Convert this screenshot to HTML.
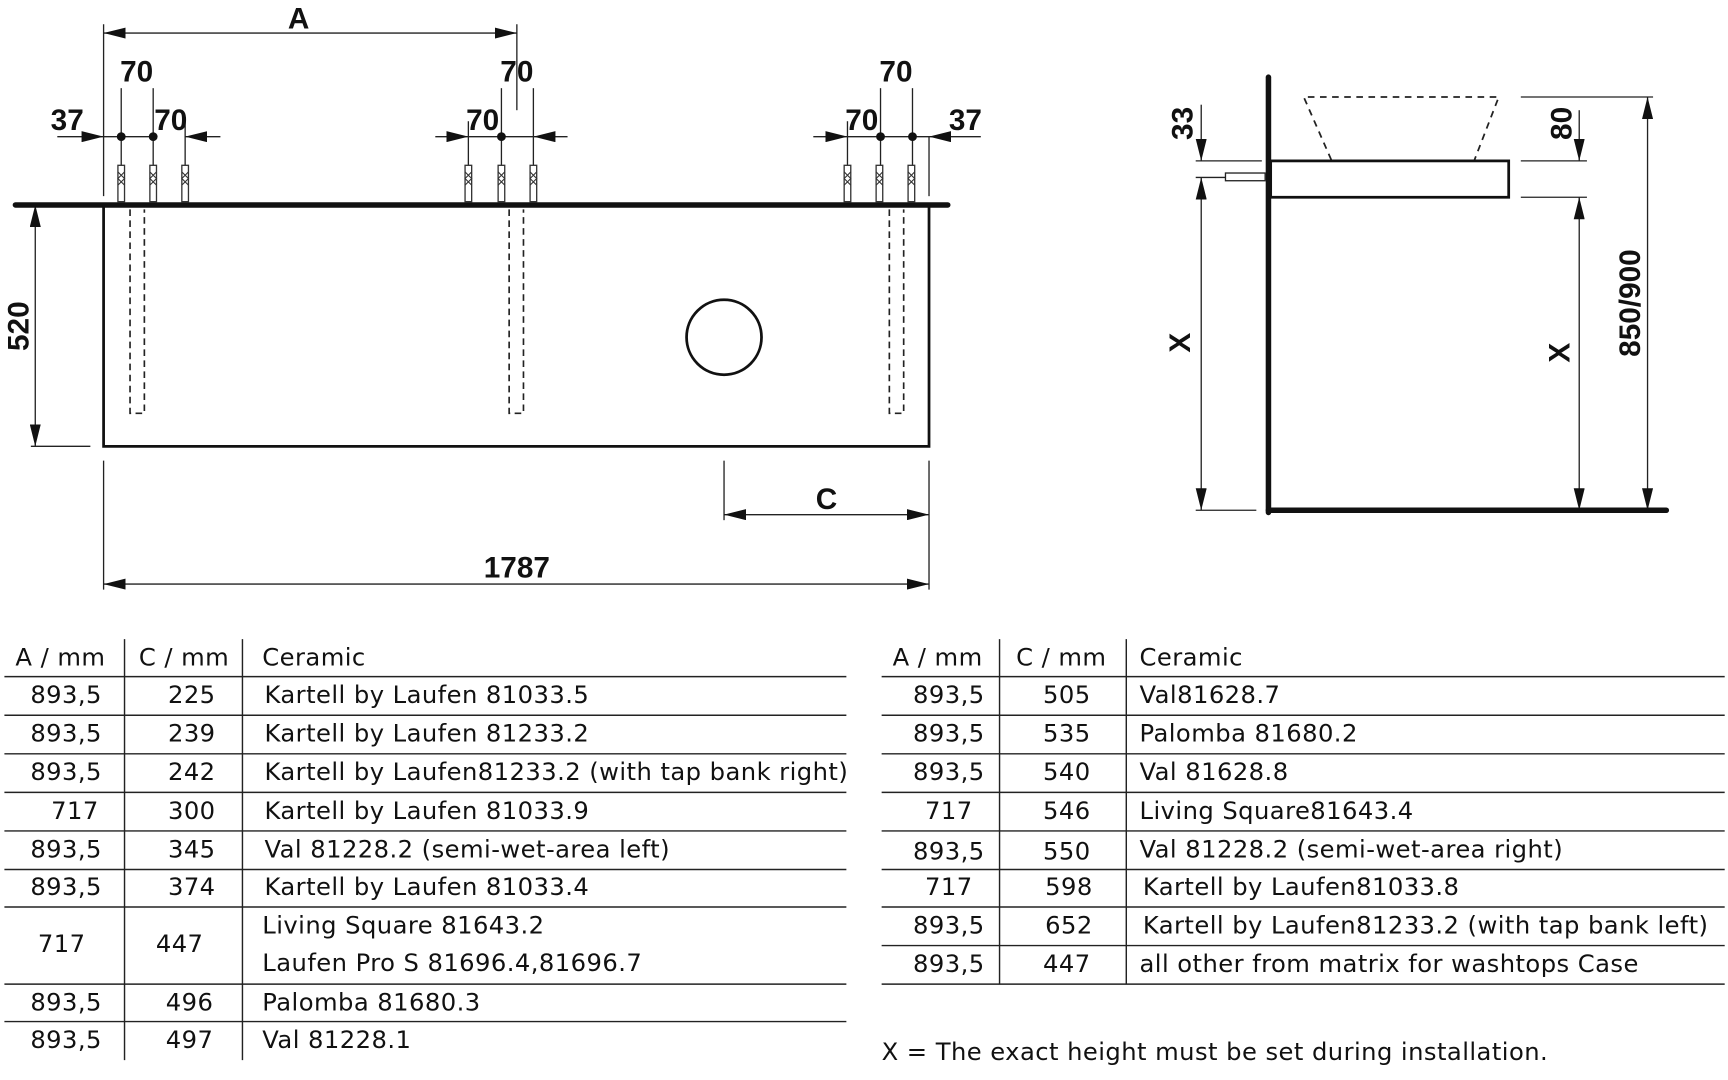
<!DOCTYPE html>
<html><head><meta charset="utf-8"><style>
html,body{margin:0;padding:0;background:#fff;}
svg{display:block;}
.d{font-family:"Liberation Sans",sans-serif;font-weight:bold;font-size:27px;fill:#111;}
.t{font-family:"DejaVu Sans","Liberation Sans",sans-serif;font-size:22px;fill:#111;letter-spacing:0.4px;}
</style></head><body>
<svg width="1728" height="1080" viewBox="0 0 1568 980" xmlns="http://www.w3.org/2000/svg">
<defs>
<marker id="ar" viewBox="0 0 20 10" refX="20" refY="5" markerWidth="20" markerHeight="10" markerUnits="userSpaceOnUse" orient="auto-start-reverse"><path d="M0,0 L20,5 L0,10 z" fill="#111"/></marker>
<g id="plug"><rect x="-3" y="0" width="6" height="33" fill="#fff" stroke="#333" stroke-width="1.2"/><path d="M-3,6 l3,3 l-3,3 l3,3 l-3,3 M3,6 l-3,3 l3,3 l-3,3 l3,3" stroke="#333" fill="none" stroke-width="1"/></g>
</defs>
<g stroke="#222" stroke-width="1.2" fill="none">
<line x1="94" y1="22" x2="94" y2="178"/><line x1="469" y1="22" x2="469" y2="100"/>
<line x1="94" y1="30" x2="469" y2="30" marker-start="url(#ar)" marker-end="url(#ar)"/>
<line x1="52" y1="124" x2="94" y2="124" marker-end="url(#ar)"/>
<line x1="94" y1="124" x2="139" y2="124"/>
<line x1="200" y1="124" x2="168" y2="124" marker-end="url(#ar)"/>
<line x1="110" y1="80" x2="110" y2="150"/><line x1="139" y1="80" x2="139" y2="150"/><line x1="168" y1="110" x2="168" y2="150"/>
<line x1="395" y1="124" x2="425" y2="124" marker-end="url(#ar)"/>
<line x1="425" y1="124" x2="484" y2="124"/>
<line x1="515" y1="124" x2="484" y2="124" marker-end="url(#ar)"/>
<line x1="425" y1="110" x2="425" y2="150"/><line x1="455" y1="80" x2="455" y2="150"/><line x1="484" y1="80" x2="484" y2="150"/>
<line x1="738" y1="124" x2="769" y2="124" marker-end="url(#ar)"/>
<line x1="769" y1="124" x2="843" y2="124"/>
<line x1="890" y1="124" x2="843" y2="124" marker-end="url(#ar)"/>
<line x1="769" y1="110" x2="769" y2="150"/><line x1="799" y1="80" x2="799" y2="150"/><line x1="828" y1="80" x2="828" y2="150"/>
<line x1="843" y1="124" x2="843" y2="178"/>
<line x1="32" y1="186" x2="32" y2="405" marker-start="url(#ar)" marker-end="url(#ar)"/>
<line x1="28" y1="405" x2="82" y2="405"/>
<line x1="94" y1="418" x2="94" y2="535"/><line x1="843" y1="418" x2="843" y2="535"/><line x1="657" y1="418" x2="657" y2="472"/>
<line x1="657" y1="467" x2="843" y2="467" marker-start="url(#ar)" marker-end="url(#ar)"/>
<line x1="94" y1="530" x2="843" y2="530" marker-start="url(#ar)" marker-end="url(#ar)"/>
<g stroke-dasharray="6,4" stroke-width="1.5">
<path d="M118,190 V375 H131 V190"/><path d="M462,190 V375 H475 V190"/><path d="M807,190 V375 H820 V190"/>
</g>
</g>
<g fill="#111"><circle cx="110" cy="124" r="4"/><circle cx="139" cy="124" r="4"/><circle cx="455" cy="124" r="4"/><circle cx="799" cy="124" r="4"/><circle cx="828" cy="124" r="4"/></g>
<g><use href="#plug" x="110" y="150"/><use href="#plug" x="139" y="150"/><use href="#plug" x="168" y="150"/>
<use href="#plug" x="425" y="150"/><use href="#plug" x="455" y="150"/><use href="#plug" x="484" y="150"/>
<use href="#plug" x="769" y="150"/><use href="#plug" x="798" y="150"/><use href="#plug" x="827" y="150"/></g>
<line x1="14" y1="186" x2="860" y2="186" stroke="#111" stroke-width="5" stroke-linecap="round"/>
<path d="M94,186 V405 H843 V186" fill="none" stroke="#111" stroke-width="2.5"/>
<circle cx="657" cy="306" r="34" fill="none" stroke="#111" stroke-width="2.5"/>
<g class="d" text-anchor="middle">
<text x="271" y="26">A</text>
<text x="124" y="74">70</text><text x="61" y="118">37</text><text x="155" y="118">70</text>
<text x="469" y="74">70</text><text x="438" y="118">70</text>
<text x="813" y="74">70</text><text x="782" y="118">70</text><text x="876" y="118">37</text>
<text x="469" y="524">1787</text><text x="750" y="462">C</text>
<text transform="translate(26,296) rotate(-90)">520</text>
</g>
<g stroke="#222" stroke-width="1.2" fill="none">
<line x1="1085" y1="146" x2="1145" y2="146"/><line x1="1085" y1="161" x2="1145" y2="161"/>
<line x1="1090" y1="95" x2="1090" y2="146" marker-end="url(#ar)"/>
<line x1="1090" y1="161" x2="1090" y2="463" marker-start="url(#ar)" marker-end="url(#ar)"/>
<line x1="1085" y1="463" x2="1140" y2="463"/>
<line x1="1380" y1="88" x2="1500" y2="88"/><line x1="1380" y1="146" x2="1440" y2="146"/><line x1="1380" y1="179" x2="1440" y2="179"/>
<line x1="1433" y1="100" x2="1433" y2="146" marker-end="url(#ar)"/>
<line x1="1433" y1="179" x2="1433" y2="463" marker-start="url(#ar)" marker-end="url(#ar)"/>
<line x1="1495" y1="88" x2="1495" y2="463" marker-start="url(#ar)" marker-end="url(#ar)"/>
<path d="M1208,145 L1183,88 H1360 L1338,145" stroke-dasharray="6,5" stroke-width="1.6"/>
<rect x="1112" y="157" width="36" height="7" fill="#fff"/>
</g>
<line x1="1151" y1="70" x2="1151" y2="465" stroke="#111" stroke-width="5" stroke-linecap="round"/>
<line x1="1151" y1="463" x2="1512" y2="463" stroke="#111" stroke-width="5" stroke-linecap="round"/>
<rect x="1153" y="146" width="216" height="33" fill="none" stroke="#111" stroke-width="2.5"/>
<g class="d" text-anchor="middle">
<text transform="translate(1082,112) rotate(-90)">33</text>
<text transform="translate(1080,311) rotate(-90)">X</text>
<text transform="translate(1426,112) rotate(-90)">80</text>
<text transform="translate(1424,320) rotate(-90)">X</text>
<text transform="translate(1488,275) rotate(-90)">850/900</text>
</g>
<g stroke="#222" stroke-width="1.3">
<line x1="4" y1="614" x2="768" y2="614"/><line x1="4" y1="649" x2="768" y2="649"/><line x1="4" y1="684" x2="768" y2="684"/><line x1="4" y1="719" x2="768" y2="719"/><line x1="4" y1="754" x2="768" y2="754"/><line x1="4" y1="789" x2="768" y2="789"/><line x1="4" y1="823" x2="768" y2="823"/><line x1="4" y1="893" x2="768" y2="893"/><line x1="4" y1="927" x2="768" y2="927"/>
<line x1="113" y1="580" x2="113" y2="962"/><line x1="220" y1="580" x2="220" y2="962"/>
<line x1="800" y1="614" x2="1565" y2="614"/><line x1="800" y1="649" x2="1565" y2="649"/><line x1="800" y1="684" x2="1565" y2="684"/><line x1="800" y1="719" x2="1565" y2="719"/><line x1="800" y1="754" x2="1565" y2="754"/><line x1="800" y1="789" x2="1565" y2="789"/><line x1="800" y1="823" x2="1565" y2="823"/><line x1="800" y1="858" x2="1565" y2="858"/><line x1="800" y1="893" x2="1565" y2="893"/>
<line x1="907" y1="580" x2="907" y2="893"/><line x1="1022" y1="580" x2="1022" y2="893"/>
</g>
<g class="t">
<text x="14" y="604">A / mm</text><text x="126" y="604">C / mm</text><text x="238" y="604">Ceramic</text>
<g text-anchor="middle">
<text x="60" y="638">893,5</text><text x="60" y="673">893,5</text><text x="60" y="708">893,5</text><text x="68" y="743">717</text><text x="60" y="778">893,5</text><text x="60" y="812">893,5</text><text x="56" y="864">717</text><text x="60" y="917">893,5</text><text x="60" y="951">893,5</text>
<text x="174" y="638">225</text><text x="174" y="673">239</text><text x="174" y="708">242</text><text x="174" y="743">300</text><text x="174" y="778">345</text><text x="174" y="812">374</text><text x="163" y="864">447</text><text x="172" y="917">496</text><text x="172" y="951">497</text>
</g>
<text x="240" y="638">Kartell by Laufen 81033.5</text>
<text x="240" y="673">Kartell by Laufen 81233.2</text>
<text x="240" y="708">Kartell by Laufen81233.2 (with tap bank right)</text>
<text x="240" y="743">Kartell by Laufen 81033.9</text>
<text x="240" y="778">Val 81228.2 (semi-wet-area left)</text>
<text x="240" y="812">Kartell by Laufen 81033.4</text>
<text x="238" y="847">Living Square 81643.2</text>
<text x="238" y="881">Laufen Pro S 81696.4,81696.7</text>
<text x="238" y="917">Palomba  81680.3</text>
<text x="238" y="951">Val 81228.1</text>
<text x="810" y="604">A / mm</text><text x="922" y="604">C / mm</text><text x="1034" y="604">Ceramic</text>
<g text-anchor="middle">
<text x="861" y="638">893,5</text><text x="861" y="673">893,5</text><text x="861" y="708">893,5</text><text x="861" y="743">717</text><text x="861" y="780">893,5</text><text x="861" y="812">717</text><text x="861" y="847">893,5</text><text x="861" y="882">893,5</text>
<text x="968" y="638">505</text><text x="968" y="673">535</text><text x="968" y="708">540</text><text x="968" y="743">546</text><text x="968" y="780">550</text><text x="970" y="812">598</text><text x="970" y="847">652</text><text x="968" y="882">447</text>
</g>
<text x="1034" y="638">Val81628.7</text>
<text x="1034" y="673">Palomba  81680.2</text>
<text x="1034" y="708">Val  81628.8</text>
<text x="1034" y="743">Living Square81643.4</text>
<text x="1034" y="778">Val  81228.2 (semi-wet-area right)</text>
<text x="1037" y="812">Kartell by Laufen81033.8</text>
<text x="1037" y="847">Kartell by Laufen81233.2 (with tap bank left)</text>
<text x="1034" y="882">all other from matrix for washtops Case</text>
<text x="800" y="962">X = The exact height must be set during installation.</text>
</g>
</svg>
</body></html>
